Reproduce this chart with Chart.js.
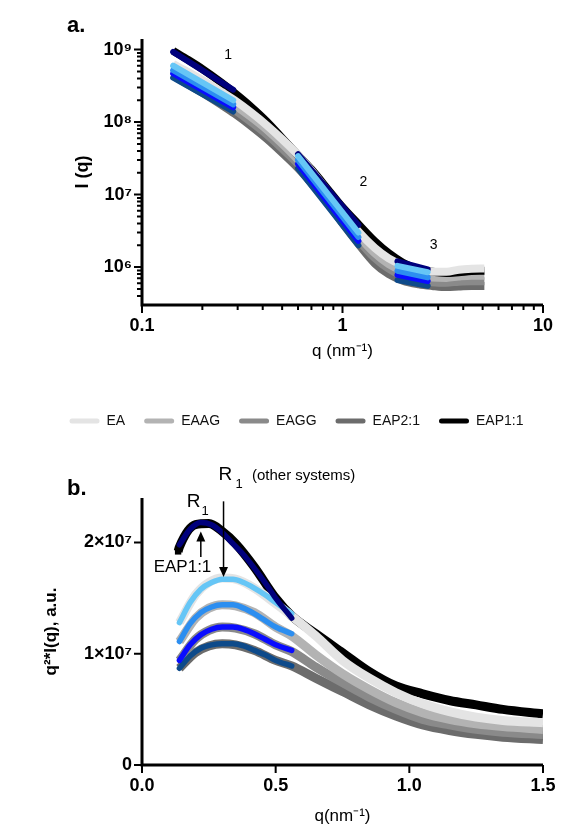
<!DOCTYPE html>
<html><head><meta charset="utf-8">
<script src="https://cdn.jsdelivr.net/npm/chart.js@4.4.0/dist/chart.umd.min.js"></script>
<style>
html,body{margin:0;padding:0;background:#fff;}
#wrap{position:relative;width:574px;height:830px;overflow:hidden;}
canvas{position:absolute;left:0;}
#ca{top:0;}
#cb{top:440px;}
</style></head><body>
<div id="wrap"><canvas id="ca" width="574" height="440"></canvas><canvas id="cb" width="574" height="390"></canvas></div>
<script>
const FONT = "'Liberation Sans', Arial, Helvetica, sans-serif";
const seriesNames = ['EA', 'EAAG', 'EAGG', 'EAP2:1', 'EAP1:1'];

// ---------- Panel a: I(q) vs q (log-log) ----------
const qA = [0.143, 0.17, 0.2, 0.25, 0.29, 0.35, 0.42, 0.5, 0.6, 0.7, 0.85, 1.0, 1.2, 1.45, 1.7, 2.0, 2.4, 2.8, 3.3, 3.8, 4.4, 5.1];
const iEA   = [6.3e8, 4.9e8, 3.8e8, 2.6e8, 2.0e8, 1.36e8, 9.0e7, 5.8e7, 3.5e7, 2.14e7, 1.08e7, 5.9e6, 3.1e6, 1.83e6, 1.32e6, 1.06e6, 9.0e5, 8.6e5, 8.6e5, 9.2e5, 9.5e5, 9.6e5];
const iEAAG = [5.5e8, 4.25e8, 3.3e8, 2.26e8, 1.71e8, 1.17e8, 7.8e7, 5.0e7, 3.0e7, 1.84e7, 9.4e6, 5.1e6, 2.7e6, 1.55e6, 1.1e6, 8.8e5, 7.6e5, 7.2e5, 7.1e5, 7.4e5, 7.6e5, 7.6e5];
const iEAGG = [4.8e8, 3.63e8, 2.83e8, 1.94e8, 1.47e8, 1.0e8, 6.7e7, 4.3e7, 2.64e7, 1.61e7, 8.4e6, 4.5e6, 2.36e6, 1.33e6, 9.5e5, 7.5e5, 6.6e5, 6.2e5, 6.1e5, 6.3e5, 6.4e5, 6.4e5];
const iEAP21 = [4.4e8, 3.29e8, 2.53e8, 1.71e8, 1.3e8, 8.8e7, 5.84e7, 3.76e7, 2.31e7, 1.43e7, 7.5e6, 4.0e6, 2.08e6, 1.12e6, 8.0e5, 6.5e5, 5.8e5, 5.5e5, 5.3e5, 5.4e5, 5.5e5, 5.5e5];
const iEAP11 = [9.6e8, 7.2e8, 5.4e8, 3.47e8, 2.51e8, 1.62e8, 1.01e8, 6.0e7, 3.5e7, 2.22e7, 1.16e7, 6.7e6, 3.9e6, 2.26e6, 1.55e6, 1.15e6, 9.3e5, 8.6e5, 8.3e5, 8.5e5, 8.8e5, 8.9e5];

// power-law fit segments (regions 1, 2, 3): start/end pairs
const qFitA = [0.143, 0.285, 0.6, 1.2, 1.88, 2.66];
const fitA_EA    = [6.0e8, 2.0e8, 3.4e7, 3.0e6, 1.04e6, 8.5e5];
const fitA_EAAG  = [5.2e8, 1.75e8, 3.0e7, 2.6e6, 8.9e5, 7.2e5];
const fitA_EAGG  = [4.7e8, 1.6e8, 2.65e7, 2.3e6, 7.8e5, 6.4e5];
const fitA_EAP21 = [4.1e8, 1.4e8, 2.3e7, 2.0e6, 6.6e5, 5.5e5];
const fitA_EAP11 = [9.3e8, 2.8e8, 3.6e7, 3.8e6, 1.2e6, 9.3e5];

const xTicksA = [0.1, 1, 10];
const xTickLabelsA = ['0.1', '1', '10'];
const yTicksA = [1e6, 1e7, 1e8, 1e9];
const yTickLabelsA = ['10\u2076', '10\u2077', '10\u2078', '10\u2079'];

// ---------- Panel b: q^2 I(q) vs q ----------
const qB = [0.14, 0.2, 0.25, 0.3, 0.35, 0.42, 0.5, 0.56, 0.65, 0.75, 0.85, 0.95, 1.05, 1.15, 1.25, 1.35, 1.5];
const kEA    = [12.8e6, 15.3e6, 16.4e6, 16.8e6, 16.7e6, 15.9e6, 14.5e6, 13.4e6, 11.6e6, 9.4e6, 7.8e6, 6.5e6, 5.5e6, 4.8e6, 4.3e6, 4.0e6, 3.8e6];
const kEAAG  = [11.1e6, 13.2e6, 14.1e6, 14.4e6, 14.3e6, 13.7e6, 12.4e6, 11.6e6, 9.9e6, 8.2e6, 6.8e6, 5.6e6, 4.7e6, 4.1e6, 3.7e6, 3.45e6, 3.2e6];
const kEAGG  = [9.4e6, 11.3e6, 12.1e6, 12.4e6, 12.3e6, 11.8e6, 10.8e6, 10.2e6, 8.8e6, 7.4e6, 6.1e6, 5.0e6, 4.1e6, 3.6e6, 3.2e6, 2.95e6, 2.75e6];
const kEAP21 = [8.7e6, 10.1e6, 10.7e6, 10.9e6, 10.8e6, 10.3e6, 9.4e6, 8.9e6, 7.8e6, 6.6e6, 5.4e6, 4.4e6, 3.6e6, 3.1e6, 2.75e6, 2.5e6, 2.3e6];
const qB11   = [0.135, 0.14, 0.2, 0.25, 0.3, 0.35, 0.42, 0.5, 0.56, 0.65, 0.75, 0.85, 0.95, 1.05, 1.15, 1.25, 1.35, 1.5];
const kEAP11 = [19.2e6, 19.6e6, 21.6e6, 21.7e6, 21.0e6, 19.9e6, 17.8e6, 15.0e6, 13.4e6, 11.8e6, 10.1e6, 8.4e6, 7.1e6, 6.4e6, 5.8e6, 5.4e6, 5.0e6, 4.6e6];

const qFitB = [0.14, 0.18, 0.22, 0.26, 0.30, 0.34, 0.38, 0.42, 0.46, 0.50, 0.56];
const fitB_EA    = [12.8e6, 14.6e6, 15.8e6, 16.4e6, 16.7e6, 16.7e6, 16.4e6, 15.9e6, 15.3e6, 14.6e6, 13.6e6];
const fitB_EAAG  = [11.1e6, 12.7e6, 13.7e6, 14.2e6, 14.4e6, 14.4e6, 14.1e6, 13.6e6, 13.0e6, 12.4e6, 11.8e6];
const fitB_EAGG  = [9.4e6, 10.8e6, 11.7e6, 12.2e6, 12.4e6, 12.4e6, 12.2e6, 11.8e6, 11.3e6, 10.8e6, 10.3e6];
const fitB_EAP21 = [8.7e6, 9.8e6, 10.5e6, 10.8e6, 10.9e6, 10.9e6, 10.7e6, 10.3e6, 9.9e6, 9.4e6, 8.9e6];
const fitB_EAP11 = [19.8e6, 21.2e6, 21.8e6, 21.6e6, 20.9e6, 19.9e6, 18.9e6, 17.7e6, 16.4e6, 15.0e6, 13.2e6];

const xTicksB = [0, 0.5, 1.0, 1.5];
const xTickLabelsB = ['0.0', '0.5', '1.0', '1.5'];
const yTicksB = [0, 1e7, 2e7];
const yTickLabelsB = ['0', '1\u00d710\u2077', '2\u00d710\u2077'];

const grayColors = ['#e4e4e4', '#b3b3b3', '#8a8a8a', '#6c6c6c', '#000000'];
const fitColors  = ['#66c6f6', '#2c8ef0', '#0a0cff', '#0d4a8a', '#00007c'];

// ---------- helpers ----------
function pts(xs, ys) { return xs.map((x, i) => ({x: x, y: ys[i]})); }
function segs(xs, ys) {
  const out = [];
  for (let i = 0; i < xs.length; i += 2) {
    if (i > 0) out.push({x: Math.sqrt(xs[i - 1] * xs[i]), y: null});
    out.push({x: xs[i], y: ys[i]}, {x: xs[i + 1], y: ys[i + 1]});
  }
  return out;
}
function grayDs(label, data, color, width, order, extra) {
  return Object.assign({label, data, borderColor: color, backgroundColor: color, borderWidth: width,
    pointRadius: 0, cubicInterpolationMode: 'monotone', fill: false, order, borderCapStyle: 'butt'}, extra || {});
}
function fitDs(label, data, color, width, order, smooth) {
  return {label, data, borderColor: color, backgroundColor: color, borderWidth: width, pointRadius: 0,
    tension: 0, cubicInterpolationMode: smooth ? 'monotone' : 'default', fill: false, order,
    borderCapStyle: 'round', spanGaps: false};
}

const axesPlugin = {
  id: 'axesDeco',
  afterDatasetsDraw(chart, args, o) {
    const ctx = chart.ctx, ca = chart.chartArea, xs = chart.scales.x, ys = chart.scales.y;
    ctx.save();
    ctx.strokeStyle = '#000';
    ctx.lineCap = 'butt';
    ctx.lineWidth = 3;
    ctx.beginPath();
    ctx.moveTo(ca.left, ca.top); ctx.lineTo(ca.left, ca.bottom + 1.5);
    ctx.moveTo(ca.left - 1.5, ca.bottom); ctx.lineTo(ca.right, ca.bottom);
    ctx.stroke();
    ctx.lineWidth = 2;
    ctx.beginPath();
    o.xMajor.forEach(v => { const p = xs.getPixelForValue(v); ctx.moveTo(p, ca.bottom); ctx.lineTo(p, ca.bottom + o.major); });
    o.yMajor.forEach(v => { const p = ys.getPixelForValue(v); ctx.moveTo(ca.left, p); ctx.lineTo(ca.left - o.major, p); });
    if (o.xLog) {
      for (let d = Math.floor(Math.log10(xs.min)); d < Math.ceil(Math.log10(xs.max)); d++) {
        for (let k = 2; k <= 9; k++) { const v = k * Math.pow(10, d); if (v > xs.min && v < xs.max) { const p = xs.getPixelForValue(v); ctx.moveTo(p, ca.bottom); ctx.lineTo(p, ca.bottom + o.minor); } }
      }
    }
    if (o.yLog) {
      for (let d = Math.floor(Math.log10(ys.min)); d < Math.ceil(Math.log10(ys.max)); d++) {
        for (let k = 2; k <= 9; k++) { const v = k * Math.pow(10, d); if (v > ys.min && v < ys.max) { const p = ys.getPixelForValue(v); ctx.moveTo(ca.left, p); ctx.lineTo(ca.left - o.minor, p); } }
      }
    }
    ctx.stroke();
    ctx.restore();
  }
};

const annotPlugin = {
  id: 'annot',
  afterDraw(chart, args, o) {
    const ctx = chart.ctx, xs = chart.scales.x, ys = chart.scales.y;
    ctx.save();
    ctx.fillStyle = '#000'; ctx.strokeStyle = '#000';
    (o.texts || []).forEach(t => {
      ctx.font = (t.bold ? 'bold ' : '') + t.size + 'px ' + FONT;
      ctx.textAlign = t.align || 'center';
      ctx.textBaseline = t.baseline || 'middle';
      const x = t.px != null ? t.px : xs.getPixelForValue(t.x);
      const y = t.py != null ? t.py : ys.getPixelForValue(t.y);
      ctx.fillText(t.text, x, y);
    });
    (o.arrows || []).forEach(a => {
      const x = xs.getPixelForValue(a.x), y0 = ys.getPixelForValue(a.from), y1 = ys.getPixelForValue(a.to);
      const dir = y1 > y0 ? 1 : -1;
      ctx.lineWidth = 1.5;
      ctx.beginPath(); ctx.moveTo(x, y0); ctx.lineTo(x, y1 - dir * 8); ctx.stroke();
      ctx.beginPath(); ctx.moveTo(x, y1); ctx.lineTo(x - 4.5, y1 - dir * 10); ctx.lineTo(x + 4.5, y1 - dir * 10); ctx.closePath(); ctx.fill();
    });
    ctx.restore();
  }
};

Chart.defaults.font.family = FONT;
Chart.defaults.color = '#000';

const tickFont = {size: 18, weight: 'bold', family: FONT};

// ---------- Chart a ----------
const dsA = [
  grayDs(seriesNames[0], pts(qA, iEA), grayColors[0], 8, 10),
  grayDs(seriesNames[1], pts(qA, iEAAG), grayColors[1], 8, 12),
  grayDs(seriesNames[2], pts(qA, iEAGG), grayColors[2], 8, 13),
  grayDs(seriesNames[3], pts(qA, iEAP21), grayColors[3], 8, 14),
  grayDs(seriesNames[4], pts(qA, iEAP11), grayColors[4], 8, 11),
  fitDs('fit ' + seriesNames[0], segs(qFitA, fitA_EA), fitColors[0], 6, 1),
  fitDs('fit ' + seriesNames[1], segs(qFitA, fitA_EAAG), fitColors[1], 6, 2),
  fitDs('fit ' + seriesNames[2], segs(qFitA, fitA_EAGG), fitColors[2], 6, 3),
  fitDs('fit ' + seriesNames[3], segs(qFitA, fitA_EAP21), fitColors[3], 6, 4),
  fitDs('fit ' + seriesNames[4], segs(qFitA, fitA_EAP11), fitColors[4], 6, 5)
];

new Chart(document.getElementById('ca'), {
  type: 'line',
  data: {datasets: dsA},
  options: {
    responsive: false, animation: false, devicePixelRatio: 1,
    layout: {padding: {left: 50, right: 31, top: 39, bottom: 2}},
    scales: {
      x: {type: 'logarithmic', min: 0.1, max: 10,
        afterBuildTicks: s => { s.ticks = xTicksA.map(v => ({value: v})); },
        afterFit: s => { s.height = 90; },
        grid: {display: false, drawTicks: false}, border: {display: false},
        ticks: {autoSkip: false, maxRotation: 0, padding: 10, color: '#000', font: tickFont, callback: (v, i) => xTickLabelsA[i]},
        title: {display: true, text: 'q (nm\u207b\u00b9)', color: '#000', font: {size: 17, family: FONT}, padding: {top: 0, bottom: 33}}},
      y: {type: 'logarithmic', min: 3e5, max: 1.4e9,
        afterBuildTicks: s => { s.ticks = yTicksA.map(v => ({value: v})); },
        afterFit: s => { s.width = 92; },
        grid: {display: false, drawTicks: false}, border: {display: false},
        ticks: {autoSkip: false, padding: 10, color: '#000', font: tickFont, callback: (v, i) => yTickLabelsA[i]},
        title: {display: true, text: 'I (q)', color: '#000', font: {size: 18, weight: 'bold', family: FONT}, padding: {top: 22, bottom: 0}}}
    },
    plugins: {
      legend: {display: true, position: 'bottom',
        labels: {boxWidth: 30, boxHeight: 5, useBorderRadius: true, borderRadius: 2.5, padding: 19, color: '#111',
          font: {size: 14, family: FONT},
          generateLabels: chart => {
            const items = Chart.defaults.plugins.legend.labels.generateLabels(chart);
            items.forEach(it => { const c = chart.data.datasets[it.datasetIndex].borderColor; it.fillStyle = c; it.strokeStyle = c; it.lineWidth = 0; });
            return items;
          },
          filter: item => item.datasetIndex < 5,
          sort: (a, b) => a.datasetIndex - b.datasetIndex}},
      tooltip: {enabled: false},
      axesDeco: {xMajor: xTicksA, yMajor: yTicksA, xLog: true, yLog: true, major: 8, minor: 5},
      annot: {texts: [
        {text: 'a.', px: 67, py: 32, size: 22, bold: true, align: 'left', baseline: 'alphabetic'},
        {text: '1', x: 0.269, y: 8.5e8, size: 14},
        {text: '2', x: 1.27, y: 1.48e7, size: 14},
        {text: '3', x: 2.85, y: 2.0e6, size: 14}
      ]}
    }
  },
  plugins: [axesPlugin, annotPlugin]
});

// ---------- Chart b ----------
const dsB = [
  grayDs(seriesNames[0], pts(qB, kEA), grayColors[0], 9, 10),
  grayDs(seriesNames[1], pts(qB, kEAAG), grayColors[1], 9, 12),
  grayDs(seriesNames[2], pts(qB, kEAGG), grayColors[2], 9, 13),
  grayDs(seriesNames[3], pts(qB, kEAP21), grayColors[3], 9, 14),
  grayDs(seriesNames[4], pts(qB11, kEAP11), grayColors[4], 9, 11,
    {pointStyle: 'rect', pointRadius: c => c.dataIndex === 0 ? 4.5 : 0, pointBackgroundColor: '#000', pointBorderWidth: 0}),
  fitDs('fit ' + seriesNames[0], pts(qFitB, fitB_EA), fitColors[0], 5.5, 2, true),
  fitDs('fit ' + seriesNames[1], pts(qFitB, fitB_EAAG), fitColors[1], 5.5, 3, true),
  fitDs('fit ' + seriesNames[2], pts(qFitB, fitB_EAGG), fitColors[2], 5.5, 4, true),
  fitDs('fit ' + seriesNames[3], pts(qFitB, fitB_EAP21), fitColors[3], 5.5, 5, true),
  fitDs('fit ' + seriesNames[4], pts(qFitB, fitB_EAP11), fitColors[4], 5.5, 1, true)
];

new Chart(document.getElementById('cb'), {
  type: 'line',
  data: {datasets: dsB},
  options: {
    responsive: false, animation: false, devicePixelRatio: 1,
    layout: {padding: {left: 30, right: 31, top: 58, bottom: 0}},
    scales: {
      x: {type: 'linear', min: 0, max: 1.5,
        afterBuildTicks: s => { s.ticks = xTicksB.map(v => ({value: v})); },
        afterFit: s => { s.height = 65; },
        grid: {display: false, drawTicks: false}, border: {display: false},
        ticks: {autoSkip: false, maxRotation: 0, padding: 10, color: '#000', font: tickFont, callback: (v, i) => xTickLabelsB[i]},
        title: {display: true, text: 'q(nm\u207b\u00b9)', color: '#000', font: {size: 17, family: FONT}, padding: {top: 0, bottom: 3}}},
      y: {type: 'linear', min: 0, max: 2.4e7,
        afterBuildTicks: s => { s.ticks = yTicksB.map(v => ({value: v})); },
        afterFit: s => { s.width = 112; },
        grid: {display: false, drawTicks: false}, border: {display: false},
        ticks: {autoSkip: false, padding: 10, color: '#000', font: tickFont, callback: (v, i) => yTickLabelsB[i]},
        title: {display: true, text: 'q\u00b2*I(q), a.u.', color: '#000', font: {size: 17, weight: 'bold', family: FONT}, padding: {top: 11, bottom: 0}}}
    },
    plugins: {
      legend: {display: false},
      tooltip: {enabled: false},
      axesDeco: {xMajor: xTicksB, yMajor: yTicksB, xLog: false, yLog: false, major: 8, minor: 5},
      annot: {
        texts: [
          {text: 'b.', px: 67, py: 55, size: 22, bold: true, align: 'left', baseline: 'alphabetic'},
          {text: 'R', x: 0.193, y: 23.7e6, size: 19},
          {text: '1', x: 0.236, y: 22.8e6, size: 13},
          {text: 'EAP1:1', x: 0.1515, y: 17.8e6, size: 17},
          {text: 'R', x: 0.312, y: 26.1e6, size: 19},
          {text: '1', x: 0.363, y: 25.2e6, size: 13},
          {text: '(other systems)', x: 0.4115, y: 26.0e6, size: 15, align: 'left'}
        ],
        arrows: [
          {x: 0.22, from: 18.7e6, to: 21.0e6},
          {x: 0.305, from: 23.7e6, to: 16.9e6}
        ]
      }
    }
  },
  plugins: [axesPlugin, annotPlugin]
});
</script>
</body></html>
